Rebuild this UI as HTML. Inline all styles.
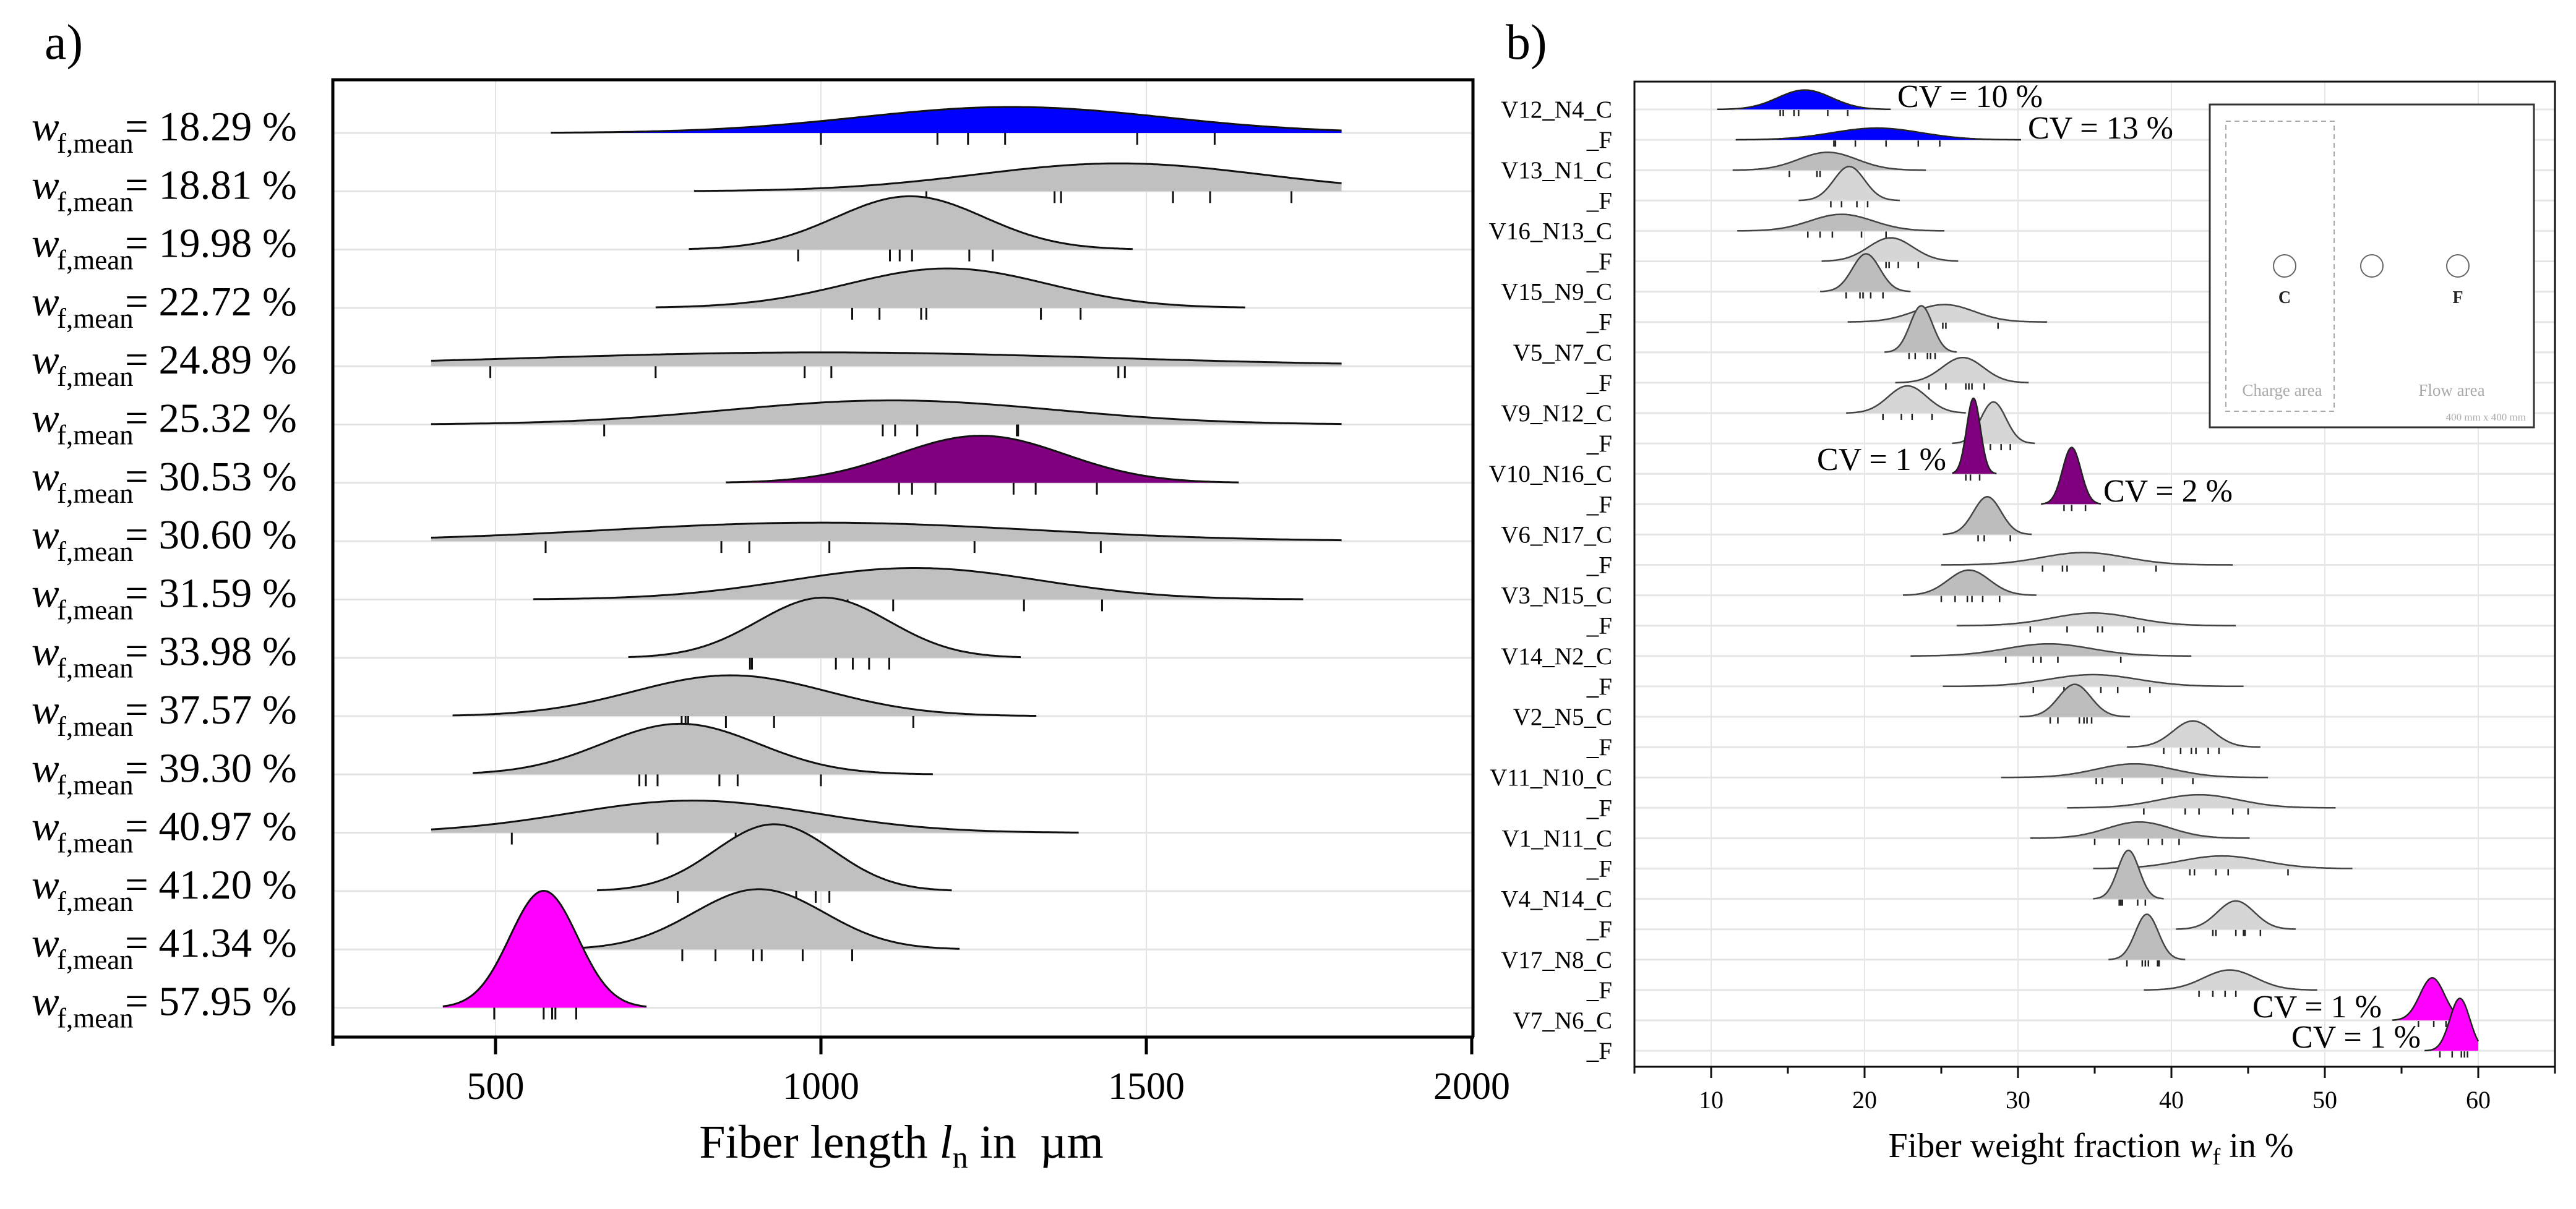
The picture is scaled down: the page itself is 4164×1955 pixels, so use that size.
<!DOCTYPE html>
<html><head><meta charset="utf-8"><style>
html,body{margin:0;padding:0;background:#fff;}
svg, svg text{font-family:"Liberation Serif","DejaVu Serif",serif;}
</style></head><body>
<svg id="chart" width="4164" height="1950" viewBox="0 0 4164 1950" xmlns="http://www.w3.org/2000/svg" font-family="Liberation Serif, serif">
<rect x="0" y="0" width="4164" height="1950" fill="#fff"/>
<g id="panelA" font-family="Liberation Serif, serif"></g>
<g id="panelB" font-family="Liberation Serif, serif"></g>
</svg>
<script>
// ===== Panel a data =====
const aLabels = ["18.29","18.81","19.98","22.72","24.89","25.32","30.53","30.60","31.59","33.98","37.57","39.30","40.97","41.20","41.34","57.95"];
const aMean  = [1293,1458,1137,1195,1000,1109,1246,1000,1144,1004,861,784,803,928,905,574];
const aSd    = [234,218,114,154,440,252,129,328,193,101,149,120,189,91,101,52];
const aStart = [585,805,797,746,401,401,854,401,558,704,434,465,401,656,632,419];
const aEnd   = [1800,1800,1479,1652,1800,1800,1642,1800,1741,1307,1331,1172,1396,1201,1213,732];
const aColor = ["blue","gray","gray","gray","gray","gray","purple","gray","gray","gray","gray","gray","gray","gray","gray","magenta"];
const aRug = [
 [1000,1179,1226,1283,1486,1605],
 [1162,1359,1369,1541,1598,1723],
 [965,1106,1121,1140,1228,1264],
 [1048,1090,1154,1162,1338,1399],
 [492,746,975,1016,1457,1467],
 [667,1095,1114,1148,1301,1303],
 [1120,1140,1176,1296,1330,1424],
 [577,847,890,1013,1236,1430],
 [1041,1111,1312,1432],
 [891,894,1023,1049,1074,1105],
 [786,792,796,854,928,1142],
 [721,731,749,844,872,1000],
 [525,749,869],
 [780,962,992,1013],
 [787,838,896,909,972,1048],
 [498,574,587,592,624]
];
const aTicks = [500,1000,1500,2000];

// ===== Panel b data =====
const bLabels = ["V12_N4_C","_F","V13_N1_C","_F","V16_N13_C","_F","V15_N9_C","_F","V5_N7_C","_F","V9_N12_C","_F","V10_N16_C","_F","V6_N17_C","_F","V3_N15_C","_F","V14_N2_C","_F","V2_N5_C","_F","V11_N10_C","_F","V1_N11_C","_F","V4_N14_C","_F","V17_N8_C","_F","V7_N6_C","_F"];
const bMean  = [16.1,20.8,17.6,19.0,18.5,21.7,20.1,25.2,23.7,26.4,22.8,28.4,27.1,33.5,28.0,34.3,26.8,34.9,32.0,34.9,33.7,41.4,37.6,41.8,37.9,43.3,37.2,44.2,38.4,43.8,57.0,58.8];
const bSd    = [1.75,2.9,1.9,1.0,2.05,1.45,0.9,1.95,0.73,1.35,1.25,0.82,0.45,0.6,0.9,2.75,1.35,2.7,2.8,2.9,1.05,1.3,2.5,2.6,2.1,2.7,0.7,1.2,0.75,1.7,0.8,0.65];
const bStart = [10.4,11.6,11.4,15.7,11.7,17.2,17.1,18.9,21.3,22.0,18.8,25.7,25.7,31.5,25.1,25.0,22.5,26.0,23.0,25.1,30.1,37.1,28.9,33.2,30.8,34.9,34.9,40.3,35.9,38.2,54.4,56.5];
const bEnd   = [21.7,30.2,24.0,22.3,25.2,26.1,23.0,31.9,26.0,30.7,26.6,31.1,28.6,35.4,30.9,44.0,31.2,44.2,41.3,44.7,37.3,45.8,46.3,50.7,45.1,51.8,39.5,48.1,40.9,49.5,58.4,60.0];
const bColor = ["blue","blue","gray","light","gray","light","gray","light","gray","light","light","light","purple","purple","gray","light","gray","light","gray","light","gray","light","gray","light","gray","light","gray","light","gray","light","magenta","magenta"];
const bRug = [
 [14.5,14.7,15.4,15.7,17.6,18.9],[18.0,18.1,19.4,21.4,23.5,24.9],[15.1,16.9,17.1],[17.8,18.5,19.5,20.2],
 [16.3,17.1,17.9,19.8,21.4],[21.4,21.6,22.2,23.5],[18.8,19.7,19.9,20.4,21.2],[25.1,25.3,28.7],
 [22.9,23.3,24.1,24.3,24.6],[24.2,25.3,26.6,26.8,27.0,27.8],[21.2,22.4,23.1,24.4],[28.2,28.9,29.5],
 [26.6,26.9,27.5],[33.0,33.5,34.4],[27.4,27.8,29.5],[31.6,32.9,33.2,35.6,39.0],
 [25.0,25.9,26.7,27.0,27.7,28.8],[30.8,33.2,35.2,35.5,37.8,38.2],[29.2,31.0,31.5,32.6,36.7],[31.0,33.0,35.4,36.5,38.6],
 [32.1,32.6,34.0,34.3,34.5,34.8],[39.5,40.6,41.3,41.6,42.4,43.1],[35.1,35.5,36.8,39.4,41.4],[38.2,40.9,41.8,44.0,45.0],
 [35.0,36.6,38.5,39.4,40.5],[41.2,41.5,42.9,43.7,47.6],[36.6,36.7,36.8,37.8,38.3],[42.7,42.9,44.2,44.7,44.8,45.8],
 [37.1,38.1,38.3,38.5,39.1,39.2],[41.8,42.7,43.5,44.2],[56.1,57.1,57.9],[57.5,58.3,58.9,59.1,59.3]
];
const bTicks = [10,20,30,40,50,60];
const bMinor = [5,15,25,35,45,55,65];
const cvText = ["CV = 10 %","CV = 13 %","CV = 1 %","CV = 2 %","CV = 1 %","CV = 1 %"];
const cvRow  = [0,1,12,13,30,31];

const NS="http://www.w3.org/2000/svg";
function mk(parent,tag,attrs,text){const e=document.createElementNS(NS,tag);for(const k in attrs)e.setAttribute(k,attrs[k]);if(text!==undefined)e.textContent=text;parent.appendChild(e);return e;}

// ===== Panel a =====
(function(){
 const g=document.getElementById('panelA');
 const L=538,R=2381,T=129,B=1677;
 const xs=v=>L+(v-250)*1.052;
 const ys=i=>215+i*94.3;
 const K=9828;
 const fills={blue:"#0000ff",purple:"#800080",magenta:"#ff00ff",gray:"#c0c0c0"};
 let t=mk(g,'text',{x:72,y:95,'font-size':80});
 t.textContent="a)";
 
 
 aTicks.slice(0,3).forEach(v=>{
  const l=mk(g,'line',{x1:xs(v),x2:xs(v),y1:T,y2:B,stroke:"#e4e4e4","stroke-width":2});
  
  
 });
 aLabels.forEach((s,i)=>{
  const l=mk(g,'line',{x1:L,x2:R,y1:ys(i),y2:ys(i),stroke:"#e4e4e4","stroke-width":3});
  
  
 });
 aLabels.forEach((s,i)=>{
  const m=aMean[i],sd=aSd[i],h=K/sd,b=ys(i);
  let pts=[];
  for(let k=0;k<=200;k++){const v=aStart[i]+(aEnd[i]-aStart[i])*k/200;pts.push([xs(v),b-h*Math.exp(-0.5*((v-m)/sd)**2)]);}
  const line="M"+pts.map(p=>p[0].toFixed(1)+","+p[1].toFixed(1)).join(" L");
  const f=mk(g,'path',{d:line+` L${xs(aEnd[i]).toFixed(1)},${b} L${xs(aStart[i]).toFixed(1)},${b} Z`,fill:fills[aColor[i]],stroke:"none"});
  
  
  const c=mk(g,'path',{d:line,fill:"none",stroke:"#111","stroke-width":3});
  
  
  aRug[i].forEach(v=>{
   const r=mk(g,'line',{x1:xs(v),x2:xs(v),y1:b,y2:b+19,stroke:"#111","stroke-width":3});
   
   
  });
  const lt=mk(g,'text',{x:51,y:b+12,'font-size':67});
  
  
  mk(lt,'tspan',{'font-style':'italic'},"w");
  mk(lt,'tspan',{x:92,dy:20,'font-size':45},"f,mean");
  mk(lt,'tspan',{x:202,dy:-20},"= "+s+" %");
 });
 const fr=mk(g,'path',{d:`M${L},${B} L${L},${T} L${R},${T} L${R},${B}`,fill:"none",stroke:"#000","stroke-width":5});
 
 
 const ax=mk(g,'line',{x1:L-2,x2:R+2,y1:B,y2:B,stroke:"#000","stroke-width":5});
 
 
 mk(g,'line',{x1:L,x2:L,y1:B,y2:B+14,stroke:"#000","stroke-width":5});
 aTicks.forEach(v=>{
  const tk=mk(g,'line',{x1:xs(v),x2:xs(v),y1:B,y2:B+28,stroke:"#000","stroke-width":5});
  
  
  const tl=mk(g,'text',{x:xs(v),y:1777,'font-size':62,'text-anchor':'middle'},String(v));
  
  
 });
 const xt=mk(g,'text',{x:1457,y:1872,'font-size':76,'text-anchor':'middle'});
 
 
 mk(xt,'tspan',{},"Fiber length ");
 mk(xt,'tspan',{'font-style':'italic'},"l");
 mk(xt,'tspan',{dy:16,'font-size':50},"n");
 mk(xt,'tspan',{dy:-16},"\u00a0in \u00a0\u00b5m");
})();

// ===== Panel b =====
(function(){
 const g=document.getElementById('panelB');
 const L=2642,R=4130,T=132,B=1725;
 const xs=v=>L+(v-5)*24.8;
 const ys=i=>177+i*49.1;
 const K=55;
 const fills={blue:"#0000ff",purple:"#800080",magenta:"#ff00ff",gray:"#bdbdbd",light:"#d6d6d6"};
 const strokes={blue:"#222",purple:"#222",magenta:"#222",gray:"#444",light:"#444"};
 let t=mk(g,'text',{x:2434,y:95,'font-size':80},"b)");
 
 
 bTicks.forEach(v=>{
  const l=mk(g,'line',{x1:xs(v),x2:xs(v),y1:T,y2:B,stroke:"#e6e6e6","stroke-width":2});
  
  
 });
 bLabels.forEach((s,i)=>{
  const l=mk(g,'line',{x1:L,x2:R,y1:ys(i),y2:ys(i),stroke:"#e6e6e6","stroke-width":3});
  
  
  const lt=mk(g,'text',{x:2606,y:ys(i)+13,'font-size':39,'text-anchor':'end'},s);
  
  
 });
 const ins=mk(g,'rect',{x:3572,y:169,width:524,height:522,fill:"#fff",stroke:"#333","stroke-width":3});
 
 
 const dr=mk(g,'rect',{x:3598,y:196,width:175,height:469,fill:"none",stroke:"#aaa","stroke-width":2,"stroke-dasharray":"8,6"});
 
 
 [3693,3834,3973].forEach(cx=>{
  const c=mk(g,'circle',{cx:cx,cy:430,r:18,fill:"#fff",stroke:"#666","stroke-width":2});
  
  
 });
 mk(g,'text',{x:3693,y:490,'font-size':28,'font-weight':'bold','text-anchor':'middle',fill:'#222'},"C");
 mk(g,'text',{x:3973,y:490,'font-size':28,'font-weight':'bold','text-anchor':'middle',fill:'#222'},"F");
 mk(g,'text',{x:3689,y:640,'font-size':27,'text-anchor':'middle',fill:'#aaa'},"Charge area");
 mk(g,'text',{x:3963,y:640,'font-size':27,'text-anchor':'middle',fill:'#aaa'},"Flow area");
 mk(g,'text',{x:4083,y:680,'font-size':17,'text-anchor':'end',fill:'#aaa'},"400 mm x 400 mm");
 bLabels.forEach((s,i)=>{
  const m=bMean[i],sd=bSd[i],h=K/sd,b=ys(i);
  let pts=[];
  for(let k=0;k<=200;k++){const v=bStart[i]+(bEnd[i]-bStart[i])*k/200;pts.push([xs(v),b-h*Math.exp(-0.5*((v-m)/sd)**2)]);}
  const line="M"+pts.map(p=>p[0].toFixed(1)+","+p[1].toFixed(1)).join(" L");
  const f=mk(g,'path',{d:line+` L${xs(bEnd[i]).toFixed(1)},${b} L${xs(bStart[i]).toFixed(1)},${b} Z`,fill:fills[bColor[i]],stroke:"none"});
  
  
  const c=mk(g,'path',{d:line,fill:"none",stroke:strokes[bColor[i]],"stroke-width":2.5});
  
  
  bRug[i].forEach(v=>{
   const r=mk(g,'line',{x1:xs(v),x2:xs(v),y1:b+1,y2:b+11,stroke:"#222","stroke-width":2.5});
   
   
  });
 });
 const cvPos=[[3067,173,'start'],[3278,224,'start'],[3146,760,'end'],[3400,811,'start'],[3850,1645,'end'],[3913,1694,'end']];
 cvText.forEach((s,k)=>{
  const p=cvPos[k];
  const e=mk(g,'text',{x:p[0],y:p[1],'font-size':52,'text-anchor':p[2]},s);
  
  
 });
 const fr=mk(g,'rect',{x:L,y:T,width:R-L,height:B-T,fill:"none",stroke:"#111","stroke-width":3});
 
 
 bTicks.forEach(v=>{
  const tk=mk(g,'line',{x1:xs(v),x2:xs(v),y1:B,y2:B+18,stroke:"#111","stroke-width":3});
  
  
  const tl=mk(g,'text',{x:xs(v),y:1792,'font-size':40,'text-anchor':'middle'},String(v));
  
  
 });
 bMinor.forEach(v=>{
  const tk=mk(g,'line',{x1:xs(v),x2:xs(v),y1:B,y2:B+11,stroke:"#111","stroke-width":3});
  
  
 });
 const xt=mk(g,'text',{x:3380,y:1871,'font-size':56,'text-anchor':'middle'});
 
 
 mk(xt,'tspan',{},"Fiber weight fraction ");
 mk(xt,'tspan',{'font-style':'italic'},"w");
 mk(xt,'tspan',{dy:12,'font-size':38},"f");
 mk(xt,'tspan',{dy:-12},"\u00a0in %");
})();
</script>
</body></html>
